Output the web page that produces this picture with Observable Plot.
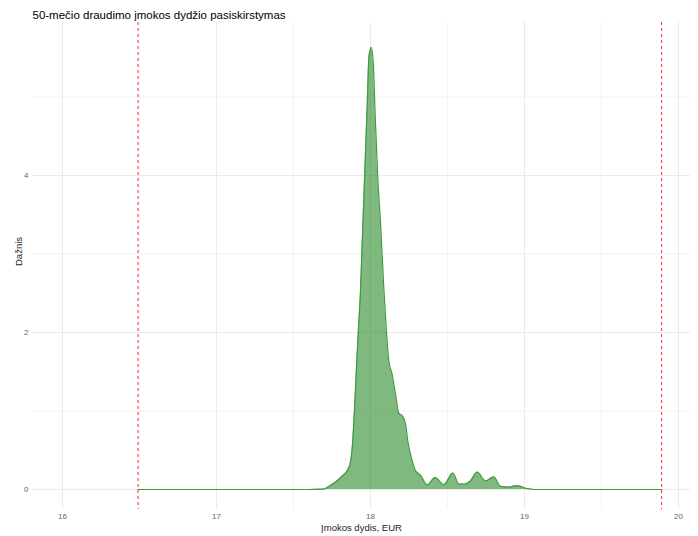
<!DOCTYPE html>
<html>
<head>
<meta charset="utf-8">
<script src="https://cdn.jsdelivr.net/npm/d3@7"></script>
<script src="https://cdn.jsdelivr.net/npm/@observablehq/plot@0.6"></script>
<style>
  html, body { margin: 0; padding: 0; background: #fff; }
  #chart svg { display: block; }
</style>
</head>
<body>
<div id="chart"></div>
<script>
// Density curve (x = premium amount, y = density)
const densX = [16.49, 17.60, 17.695, 17.74, 17.805, 17.86, 17.88, 17.89, 17.90, 17.91, 17.92, 17.935, 17.946, 17.957, 17.968, 17.98, 17.99, 18.005, 18.017, 18.03, 18.048, 18.065, 18.086, 18.104, 18.119, 18.14, 18.162, 18.184, 18.206, 18.227, 18.242, 18.27, 18.292, 18.325, 18.368, 18.42, 18.476, 18.535, 18.573, 18.617, 18.649, 18.693, 18.747, 18.80, 18.844, 18.90, 18.952, 19.017, 19.06, 19.89];
const densY = [0, 0, 0.005, 0.05, 0.15, 0.28, 0.5, 0.79, 1.18, 1.6, 1.98, 2.53, 3.13, 3.72, 4.32, 4.97, 5.51, 5.63, 5.47, 4.79, 3.94, 3.40, 2.58, 1.99, 1.64, 1.47, 1.22, 0.97, 0.94, 0.84, 0.62, 0.37, 0.24, 0.18, 0.06, 0.15, 0.06, 0.21, 0.07, 0.07, 0.11, 0.22, 0.11, 0.16, 0.04, 0.03, 0.05, 0.01, 0, 0];
// Red dashed reference lines
const refLines = [16.49, 19.89];
// Tick values
const xTicks = [16, 17, 18, 19, 20];
const xMinor = [16.5, 17.5, 18.5, 19.5];
const yTicks = [0, 2, 4];
const yMinor = [1, 3, 5];

const titleText = "50-mečio draudimo įmokos dydžio pasiskirstymas";
const xLabel = "Įmokos dydis, EUR";
const yLabel = "Dažnis";

const data = densX.map((x, i) => ({x, y: densY[i]}));

const W = 698, H = 536;
const mL = 32, mR = 8, mT = 22, mB = 27;

const chart = Plot.plot({
  width: W,
  height: H,
  marginLeft: mL,
  marginRight: mR,
  marginTop: mT,
  marginBottom: mB,
  style: {fontFamily: "Liberation Sans, Arial, sans-serif", background: "#fff"},
  x: {domain: [15.805, 20.078], label: null},
  y: {domain: [-0.255, 5.95], label: null},
  marks: [
    Plot.ruleX(xMinor, {stroke: "#ebebeb", strokeWidth: 0.6}),
    Plot.ruleY(yMinor, {stroke: "#ebebeb", strokeWidth: 0.6}),
    Plot.ruleX(xTicks, {stroke: "#ebebeb", strokeWidth: 1.1}),
    Plot.ruleY(yTicks, {stroke: "#ebebeb", strokeWidth: 1.1}),
    Plot.areaY(data, {x: "x", y: "y", curve: "monotone-x", fill: "#2a8a2a", fillOpacity: 0.6}),
    Plot.lineY(data, {x: "x", y: "y", curve: "monotone-x", stroke: "#3d9a3d", strokeWidth: 1.2}),
    Plot.ruleX(refLines, {stroke: "#ff4040", strokeWidth: 1.1, strokeDasharray: "3,3"}),
    Plot.axisX(xTicks, {tickSize: 0, tickPadding: 4, fontSize: 8, fill: "#666", anchor: "bottom", tickFormat: d => String(d)}),
    Plot.axisY(yTicks, {tickSize: 0, tickPadding: 4, fontSize: 8, fill: "#666", anchor: "left", tickFormat: d => String(d)}),
    Plot.text([xLabel], {frameAnchor: "bottom", dy: 21, fontSize: 9.5, fill: "#222"}),
    Plot.text([yLabel], {frameAnchor: "left", dx: -14, rotate: -90, fontSize: 9.5, fill: "#222"}),
    Plot.text([titleText], {frameAnchor: "top-left", dy: -12, textAnchor: "start", fontSize: 11.5, fill: "#000"})
  ]
});
document.getElementById("chart").appendChild(chart);
</script>
</body>
</html>
